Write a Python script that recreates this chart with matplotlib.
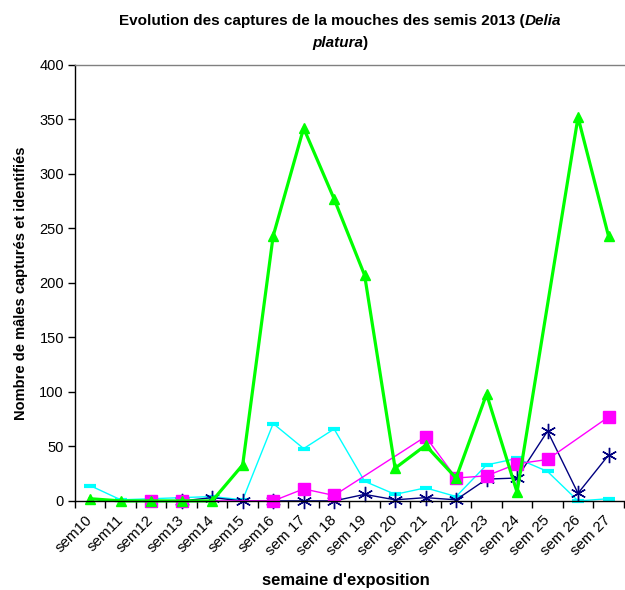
import numpy as np
import matplotlib.pyplot as plt

plt.rcParams['font.family'] = ['Liberation Sans', 'DejaVu Sans']

# semaines d'exposition
semaines = ['sem10', 'sem11', 'sem12', 'sem13', 'sem14', 'sem15', 'sem16',
            'sem 17', 'sem 18', 'sem 19', 'sem 20', 'sem 21', 'sem 22',
            'sem 23', 'sem 24', 'sem 25', 'sem 26', 'sem 27']

nan = np.nan
# captures par piège (nan = pas de relevé)
cyan_vals = [14, 1, 2, 3, 4, 1, 71, 48, 66, 18, 6, 12, 4, 33, 39, 27, 0, 2]
navy_vals = [nan, nan, nan, 0, 3, 0, 0, 0, 0, 6, 1, 3, 1, 20, 21, 64, 7, 42]
rose_vals = [nan, nan, 0, 0, nan, nan, 0, 11, 5, nan, nan, 59, 21, 23, 34, 38, nan, 77]
vert_vals = [2, 0, 0, 0, 0, 33, 243, 342, 277, 207, 30, 51, 21, 98, 8, nan, 352, 243]

fig = plt.figure(figsize=(6.25, 5.9), dpi=100)
ax = fig.add_axes([0.12, 0.151, 0.878, 0.739])

x = np.arange(len(semaines))

def trace(vals, **kw):
    v = np.array(vals, dtype=float)
    ok = ~np.isnan(v)
    # Excel relie les points par-dessus les valeurs manquantes
    ax.plot(x[ok], v[ok], clip_on=False, **kw)

trace(cyan_vals, color='#00FFFF', lw=1, marker='_', ms=8, mew=3)
trace(navy_vals, color='#000080', lw=1, marker=(6, 2, 0), ms=11, mew=1)
trace(rose_vals, color='#FF00FF', lw=1, marker='s', ms=9)
trace(vert_vals, color='#00FF00', lw=2.3, marker='^', ms=7)

ax.set_xlim(-0.5, len(semaines) - 0.5)
ax.set_ylim(0, 400)
ax.set_yticks(np.arange(0, 401, 50))
ax.tick_params(axis='y', direction='out', length=5, width=1, labelsize=10.5, pad=3)

ax.set_xticks(x)
ax.set_xticklabels(semaines, rotation=45, ha='right', va='center', rotation_mode='anchor')
ax.set_xticks(np.arange(-0.5, len(semaines)), minor=True)
ax.tick_params(axis='x', which='major', length=0, labelsize=11, pad=12)
ax.tick_params(axis='x', which='minor', direction='out', length=5, width=1)

for s in ['left', 'bottom']:
    ax.spines[s].set_color('black')
    ax.spines[s].set_linewidth(1)
ax.spines['top'].set_color('#808080')
ax.spines['top'].set_linewidth(1)
ax.spines['right'].set_visible(False)

ax.set_ylabel('Nombre de mâles capturés et identifiés', fontsize=10.5,
              fontweight='bold', labelpad=8)
fig.text(0.553, 0.003, "semaine d'exposition", fontsize=12, fontweight='bold',
         ha='center', va='bottom')

# titre avec le nom latin en italique
r = fig.canvas.get_renderer()
def largeur(t):
    return t.get_window_extent(r).width

cx = 340
y1 = 590 - 21
y2 = 590 - 43
p1 = fig.text(0, 0, 'Evolution des captures de la mouches des semis 2013 (',
              fontsize=11, fontweight='bold', transform=None, va='center')
p2 = fig.text(0, 0, 'Delia', fontsize=11, fontweight='bold', style='italic',
              transform=None, va='center')
w1, w2 = largeur(p1), largeur(p2)
x0 = cx - (w1 + w2) / 2
p1.set_position((x0, y1))
p2.set_position((x0 + w1, y1))
p3 = fig.text(0, 0, 'platura', fontsize=11, fontweight='bold', style='italic',
              transform=None, va='center')
p4 = fig.text(0, 0, ')', fontsize=11, fontweight='bold', transform=None, va='center')
w3, w4 = largeur(p3), largeur(p4)
x0 = cx - (w3 + w4) / 2
p3.set_position((x0, y2))
p4.set_position((x0 + w3, y2))

fig.savefig('out.png', dpi=100)
